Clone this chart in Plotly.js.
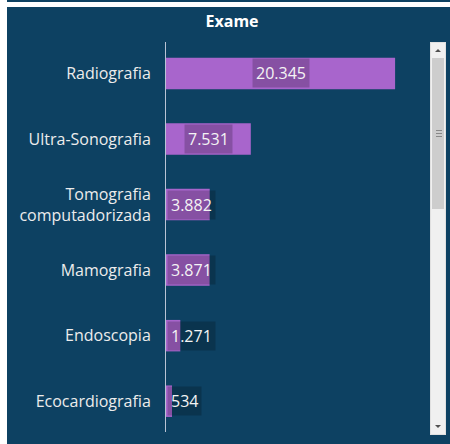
<!DOCTYPE html>
<html>
<head>
<meta charset="utf-8">
<script src="https://cdn.plot.ly/plotly-3.0.1.min.js"></script>
<style>
  html, body { margin:0; padding:0; background:#ffffff; width:450px; height:444px; overflow:hidden; }
  #topstrip { position:absolute; left:7px; top:0; width:443px; height:2px; background:#0d4162; }
  #chart { position:absolute; left:7px; top:7px; width:443px; height:437px; }
  #sb { position:absolute; left:430px; top:42px; width:16px; height:393px; background:#f0f0f0; border:1px solid #e0e0e0; box-sizing:border-box; }
  #thumb { position:absolute; left:1px; top:15px; width:12px; height:151px; background:#cdcdcd; }
  .grip { position:absolute; left:4px; width:6px; height:1px; background:#888; }
  #up { position:absolute; left:4px; top:6px; width:0; height:0; border-left:3px solid transparent; border-right:3px solid transparent; border-bottom:3px solid #505050; }
  #down { position:absolute; left:4px; bottom:6px; width:0; height:0; border-left:3px solid transparent; border-right:3px solid transparent; border-top:3px solid #505050; }
</style>
</head>
<body>
<div id="topstrip"></div>
<div id="chart"></div>
<div id="sb">
  <div id="up"></div>
  <div id="thumb">
    <div class="grip" style="top:72px"></div>
    <div class="grip" style="top:75px"></div>
    <div class="grip" style="top:78px"></div>
  </div>
  <div id="down"></div>
</div>
<script>
const categories = ['Radiografia', 'Ultra-Sonografia', 'Tomografia<br>computadorizada', 'Mamografia', 'Endoscopia', 'Ecocardiografia'];
const values = [20345, 7531, 3882, 3871, 1271, 534];

const NAVY = '#0d4162';
const PURPLE = '#a865cc';
const xMax = 23000;
const plotW = 259;

function fmt(v) {
  return String(v).replace(/\B(?=(\d{3})+(?!\d))/g, '.');
}

const annotations = values.map((v, i) => {
  const txt = fmt(v);
  const labelW = txt.length * 9 + 6;
  const barPx = v * plotW / xMax;
  const fits = labelW < barPx;
  return {
    x: fits ? v / 2 : 0,
    y: categories[i],
    xref: 'x', yref: 'y',
    text: txt,
    showarrow: false,
    xanchor: fits ? 'center' : 'left',
    xshift: fits ? 0 : 1,
    yanchor: 'middle',
    bgcolor: 'rgba(0,0,0,0.2)',
    borderpad: 3,
    font: { family: 'Open Sans, sans-serif', size: 16, color: '#f4f4f4' }
  };
});

const trace = {
  type: 'bar',
  orientation: 'h',
  y: categories,
  x: values,
  width: 0.48,
  marker: { color: PURPLE, line: { width: 0 } },
  hoverinfo: 'none'
};

const layout = {
  width: 443,
  height: 437,
  paper_bgcolor: NAVY,
  plot_bgcolor: NAVY,
  margin: { l: 159, r: 25, t: 35, b: 12 },
  showlegend: false,
  title: {
    text: '<b>Exame</b>',
    xref: 'container', yref: 'container',
    x: 0.508, y: 0.968, xanchor: 'center', yanchor: 'middle',
    font: { family: 'Open Sans, sans-serif', size: 16, color: '#ffffff' }
  },
  xaxis: {
    range: [0, xMax],
    showgrid: false, zeroline: false, showticklabels: false, showline: false, ticks: ''
  },
  yaxis: {
    type: 'category',
    range: [5.47, -0.48],
    showgrid: false, zeroline: false,
    showline: true, linecolor: '#b9c3d4', linewidth: 1,
    ticks: 'outside', ticklen: 11, tickcolor: 'rgba(0,0,0,0)',
    tickfont: { family: 'Open Sans, sans-serif', size: 16, color: '#ececec' }
  },
  annotations: annotations
};

Plotly.newPlot('chart', [trace], layout, { displayModeBar: false, staticPlot: true });
</script>
</body>
</html>
